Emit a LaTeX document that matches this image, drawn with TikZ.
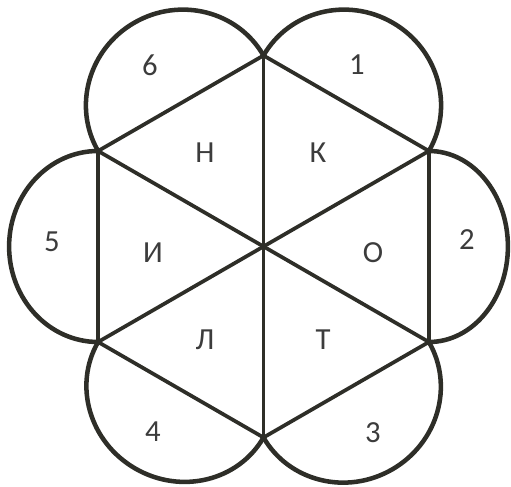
\documentclass[tikz,border=0pt]{standalone}
\usepackage{fontspec}
\setmainfont{Carlito}
\usetikzlibrary{calc}
\definecolor{figline}{HTML}{2E2E28}
\definecolor{figtext}{HTML}{3C3C3C}
\tikzset{
  hexline/.style={draw=figline, line width=2.8pt, line cap=round, line join=round},
  lobeline/.style={draw=figline, line width=3.4pt, line cap=round},
  figletter/.style={text=figtext, font=\fontsize{23}{27}\selectfont, inner sep=0pt},
}

\begin{document}
\begin{tikzpicture}[x=0.75pt, y=0.75pt]
  \useasboundingbox (0,0) rectangle (511,486);
  \coordinate (c) at (263.5,239.5);
  \foreach \i/\a in {1/90, 2/30, 3/-30, 4/-90, 5/-150, 6/150}
    \coordinate (v\i) at ($(c)+(\a:191)$);
  \foreach \d/\r in {60/93, 0/79, -60/92, -120/91, 180/89, 120/93}
    \draw[lobeline, shift={($(c)+(\d:165.4)$)}, rotate=\d]
      (0,-95.5) arc[start angle=-90, end angle=90, x radius=\r, y radius=95.5];
  \draw[hexline] (v1) -- (v2) -- (v3) -- (v4) -- (v5) -- (v6) -- cycle;
  \draw[hexline] (v1) -- (v4);
  \draw[hexline] (v2) -- (v5);
  \draw[hexline] (v3) -- (v6);
  \node[figletter] (n1) at (357,421) {1};
  \node[figletter] (n2) at (467,246) {2};
  \node[figletter] (n3) at (373,53) {3};
  \node[figletter] (n4) at (153,54) {4};
  \node[figletter] (n5) at (52,244) {5};
  \node[figletter] (n6) at (150,421) {6};
  \node[figletter] (en) at (205,333) {Н};
  \node[figletter] (ka) at (318,333) {К};
  \node[figletter] (o) at (373,233) {О};
  \node[figletter] (te) at (323,146) {Т};
  \node[figletter] (el) at (205,146) {Л};
  \node[figletter] (i) at (153,233) {И};
\end{tikzpicture}
\end{document}
